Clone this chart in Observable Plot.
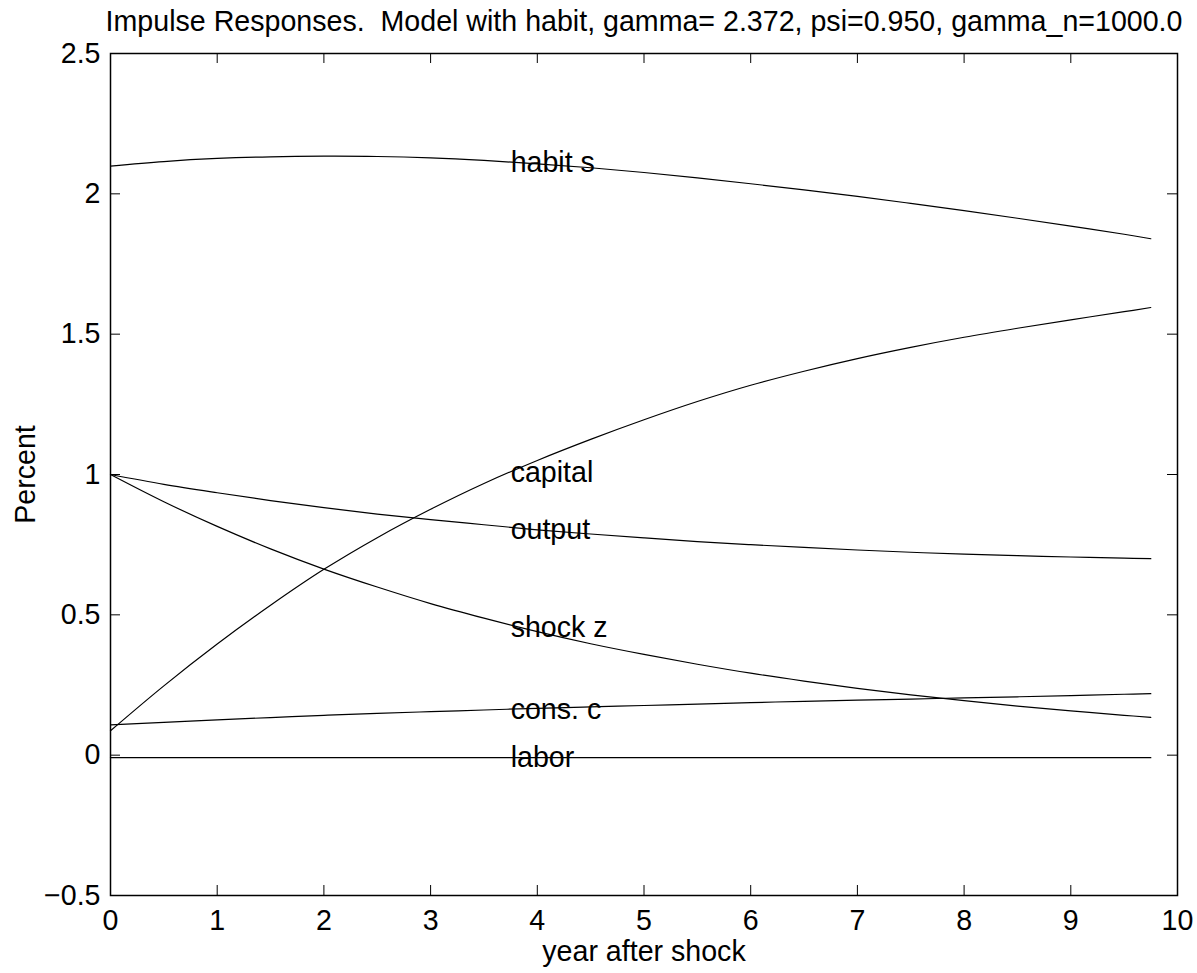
<!DOCTYPE html>
<html>
<head>
<meta charset="utf-8">
<script src="https://cdn.jsdelivr.net/npm/d3@7"></script>
<script src="https://cdn.jsdelivr.net/npm/@observablehq/plot@0.6"></script>
<style>
  html, body { margin: 0; padding: 0; background: #fff; }
</style>
</head>
<body>
<div id="chart"></div>
<script>
// ---- data ----
const years   = [0, 0.5, 1, 1.5, 2, 2.5, 3, 3.5, 4, 4.5, 5, 5.5, 6, 6.5, 7, 7.5, 8, 8.5, 9, 9.5, 9.75];
const habitS  = [2.099, 2.115, 2.126, 2.132, 2.134, 2.133, 2.128, 2.119, 2.107, 2.093, 2.076, 2.057, 2.036, 2.014, 1.991, 1.966, 1.940, 1.913, 1.885, 1.856, 1.840];
const capital = [0.087, 0.247, 0.396, 0.534, 0.662, 0.775, 0.876, 0.968, 1.050, 1.125, 1.195, 1.260, 1.318, 1.368, 1.413, 1.453, 1.489, 1.521, 1.551, 1.580, 1.595];
const output  = [1.000, 0.965, 0.935, 0.907, 0.882, 0.859, 0.839, 0.821, 0.803, 0.788, 0.774, 0.761, 0.750, 0.740, 0.731, 0.723, 0.716, 0.711, 0.706, 0.702, 0.700];
const shockZ  = [1.000, 0.903, 0.815, 0.735, 0.663, 0.599, 0.540, 0.488, 0.440, 0.397, 0.359, 0.324, 0.292, 0.264, 0.238, 0.215, 0.194, 0.175, 0.158, 0.142, 0.135];
const consC   = [0.108, 0.117, 0.126, 0.134, 0.142, 0.149, 0.155, 0.161, 0.167, 0.172, 0.177, 0.182, 0.187, 0.192, 0.196, 0.200, 0.204, 0.208, 0.212, 0.217, 0.219];
const labor   = [-0.009, -0.009, -0.009, -0.009, -0.009, -0.009, -0.009, -0.009, -0.009, -0.009, -0.009, -0.009, -0.009, -0.009, -0.009, -0.009, -0.009, -0.009, -0.009, -0.009, -0.009];

const seriesNames  = ["habit s", "capital", "output", "shock z", "cons. c", "labor"];
const seriesValues = [habitS, capital, output, shockZ, consC, labor];
const labelX = 3.75;
const labelY = [2.11, 1.005, 0.803, 0.455, 0.163, -0.008];

const xTicks = [0, 1, 2, 3, 4, 5, 6, 7, 8, 9, 10];
const yTicks = [-0.5, 0, 0.5, 1, 1.5, 2, 2.5];

const titleText = "Impulse Responses.  Model with habit, gamma= 2.372, psi=0.950, gamma_n=1000.0";
const xLabel = "year after shock";
const yLabel = "Percent";

// ---- build tables ----
const rows = [];
seriesNames.forEach((name, s) => {
  years.forEach((t, i) => rows.push({series: name, t, v: seriesValues[s][i]}));
});
const labels = seriesNames.map((name, i) => ({name, x: labelX, y: labelY[i]}));

const W = 1197, H = 973;
const mL = 110, mR = 20, mT = 53, mB = 78;
const innerW = W - mL - mR, innerH = H - mT - mB;
const tick = 10;
const fs = 28.6;

const chart = Plot.plot({
  width: W,
  height: H,
  marginLeft: mL,
  marginRight: mR,
  marginTop: mT,
  marginBottom: mB,
  style: {fontFamily: "'Liberation Sans', Arial, Helvetica, sans-serif", fontSize: fs + "px", color: "black", background: "white"},
  x: {domain: [0, 10]},
  y: {domain: [-0.5, 2.5]},
  marks: [
    Plot.lineY(rows, {x: "t", y: "v", z: "series", stroke: "black", strokeWidth: 1.2, curve: "catmull-rom"}),
    Plot.text(labels, {x: "x", y: "y", text: "name", textAnchor: "start", lineAnchor: "middle", fill: "black", fontSize: fs}),
    // inward ticks on all four sides
    Plot.tickX(xTicks, {x: d => d, insetTop: innerH - tick, stroke: "black", strokeWidth: 1}),
    Plot.tickX(xTicks, {x: d => d, insetBottom: innerH - tick, stroke: "black", strokeWidth: 1}),
    Plot.tickY(yTicks, {y: d => d, insetRight: innerW - tick, stroke: "black", strokeWidth: 1}),
    Plot.tickY(yTicks, {y: d => d, insetLeft: innerW - tick, stroke: "black", strokeWidth: 1}),
    Plot.axisX({ticks: xTicks, tickSize: 0, tickPadding: 14, label: null, tickFormat: d3.format("d"), fill: "black"}),
    Plot.axisY({ticks: yTicks, tickSize: 0, tickPadding: 10, label: null, tickFormat: d3.format("~g"), fill: "black"}),
    Plot.frame({stroke: "black", strokeWidth: 1.5}),
    Plot.text([titleText], {text: d => d, frameAnchor: "top", dy: -32, lineAnchor: "middle", fill: "black", fontSize: fs}),
    Plot.text([xLabel], {text: d => d, frameAnchor: "bottom", dy: 56, lineAnchor: "middle", fill: "black", fontSize: fs}),
    Plot.text([yLabel], {text: d => d, frameAnchor: "left", dx: -85, rotate: -90, textAnchor: "middle", lineAnchor: "middle", fill: "black", fontSize: fs})
  ]
});
document.getElementById("chart").appendChild(chart);
</script>
</body>
</html>
